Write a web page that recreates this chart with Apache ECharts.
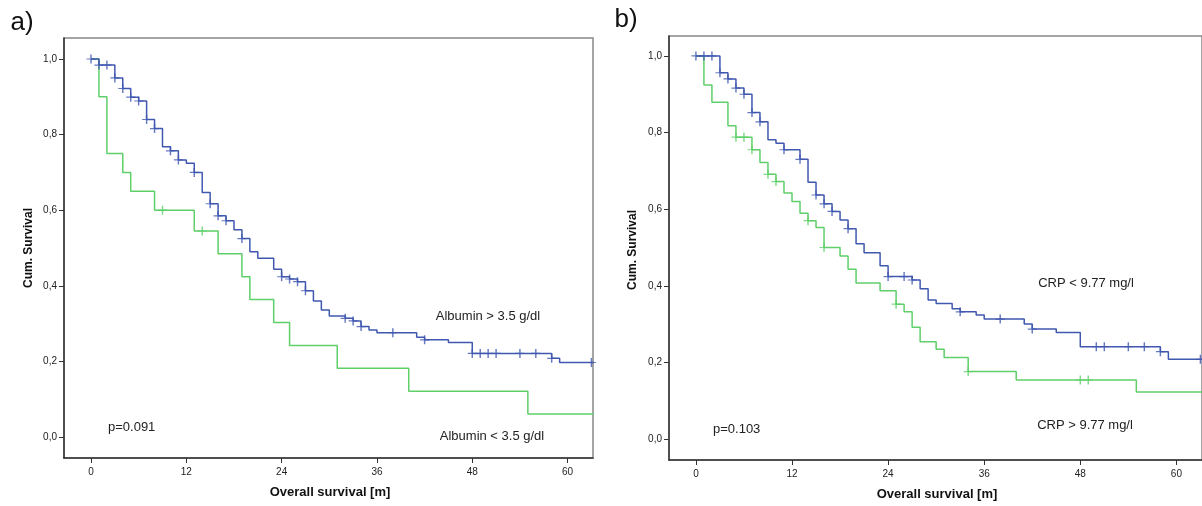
<!DOCTYPE html>
<html><head><meta charset="utf-8">
<script src="https://cdn.jsdelivr.net/npm/echarts@6/dist/echarts.min.js"></script>
<style>html,body{margin:0;padding:0;background:#fff}#c{width:1202px;height:506px}</style>
</head><body><div id="c"></div><script>
// ---- data ----
const xTicks = [0, 12, 24, 36, 48, 60];
const yTicks = [0, 0.2, 0.4, 0.6, 0.8, 1.0];
const endTime = 63.3;

// Panel a: Albumin > 3.5 g/dl
const albHighT = [0,1,3,4,5,6,7,8,9,10,11,12,13,14,15,16,17,18,19,20,21,23,24,25,26,27,28,29,30,32,33,34,35,36,41,42,45,48,58,59];
const albHighS = [1,0.984,0.950,0.922,0.899,0.889,0.840,0.816,0.768,0.757,0.733,0.724,0.700,0.647,0.617,0.585,0.572,0.548,0.525,0.490,0.473,0.444,0.424,0.418,0.411,0.387,0.360,0.336,0.320,0.314,0.307,0.292,0.283,0.276,0.264,0.257,0.250,0.221,0.208,0.197];
const albHighCens = [0,1,2,3,4,5,6,7,8,10,11,13,15,16,17,19,24,25,26,27,32,33,34,38,42,48,49,50,51,54,56,58,63];
// Panel a: Albumin < 3.5 g/dl
const albLowT = [0,1,2,4,5,8,13,16,19,20,23,25,31,40,55];
const albLowS = [1,0.90,0.75,0.70,0.65,0.60,0.545,0.485,0.424,0.364,0.303,0.242,0.182,0.121,0.061];
const albLowCens = [9,14];

// Panel b: CRP < 9.77 mg/l
const crpLowT = [0,3,4,5,6,7,8,9,10,11,13,14,15,16,17,18,19,20,21,23,24,27,28,29,30,32,33,35,36,41,42,45,48,58,59];
const crpLowS = [1,0.956,0.940,0.916,0.900,0.852,0.828,0.781,0.772,0.755,0.730,0.670,0.637,0.614,0.594,0.572,0.549,0.510,0.486,0.452,0.424,0.415,0.392,0.363,0.354,0.340,0.332,0.324,0.313,0.300,0.287,0.278,0.241,0.228,0.208];
const crpLowCens = [0,1,2,3,4,5,6,7,8,11,13,15,16,17,19,24,26,27,33,38,42,50,51,54,56,58,63];
// Panel b: CRP > 9.77 mg/l
const crpHighT = [0,1,2,4,5,7,8,9,10,11,12,13,14,15,16,18,19,20,23,25,26,27,28,30,31,34,40,55];
const crpHighS = [1,0.924,0.879,0.818,0.788,0.755,0.722,0.691,0.672,0.642,0.620,0.589,0.570,0.552,0.500,0.478,0.443,0.407,0.387,0.352,0.332,0.292,0.254,0.234,0.213,0.176,0.154,0.123];
const crpHighCens = [5,6,7,9,10,14,16,25,34,48,49];

// ---- helpers ----
function stepData(T, S) {
  return T.map((t, i) => [t, S[i]]).concat([[endTime, S[S.length - 1]]]);
}
function survAt(T, S, t) {
  let v = S[0];
  for (let i = 0; i < T.length; i++) { if (T[i] <= t) v = S[i]; }
  return v;
}
function censData(T, S, C) { return C.map(t => [t, survAt(T, S, t)]); }

const BLUE = '#4058b0';
const GREEN = '#5fcf69';
const FONT = "'Liberation Sans', Arial, sans-serif";
const PLUS = 'path://M-0.16,-1H0.16V-0.13H1V0.13H0.16V1H-0.16V0.13H-1V-0.13H-0.16Z';

function xAxis(gi, min, max) {
  return {
    type: 'value', gridIndex: gi, min: min, max: max, position: 'bottom',
    axisLine: { show: true, onZero: false, lineStyle: { color: '#333', width: 1.5 } },
    axisTick: { show: true, length: 5, customValues: xTicks, lineStyle: { color: '#333' } },
    axisLabel: { customValues: xTicks, color: '#222', fontSize: 10, fontFamily: FONT, margin: 9 },
    splitLine: { show: false }
  };
}
function yAxis(gi, min, max) {
  return {
    type: 'value', gridIndex: gi, min: min, max: max, position: 'left',
    axisLine: { show: true, onZero: false, lineStyle: { color: '#333', width: 1.5 } },
    axisTick: { show: true, length: 5, customValues: yTicks, lineStyle: { color: '#333' } },
    axisLabel: { customValues: yTicks, color: '#222', fontSize: 10, fontFamily: FONT, margin: 7,
      formatter: v => v.toFixed(1).replace('.', ',') },
    splitLine: { show: false }
  };
}
function lineSeries(idx, data, color) {
  return { type: 'line', xAxisIndex: idx, yAxisIndex: idx, data: data, step: 'end',
    symbol: 'none', lineStyle: { color: color, width: 1.5 }, clip: true, animation: false, z: 3 };
}
function censSeries(idx, data, color) {
  return { type: 'scatter', xAxisIndex: idx, yAxisIndex: idx, data: data, symbol: PLUS,
    symbolSize: 9, itemStyle: { color: color }, clip: false, animation: false, z: 4 };
}
function txt(x, y, s, opt) {
  return Object.assign({ type: 'text', x: x, y: y, style: Object.assign({ text: s, fill: '#222',
    font: '13px ' + FONT, textAlign: 'center', textVerticalAlign: 'middle' }, opt || {}) });
}

const chart = echarts.init(document.getElementById('c'), null, { renderer: 'canvas' });
chart.setOption({
  backgroundColor: '#fff',
  animation: false,
  grid: [
    { left: 64, top: 38, width: 529, height: 420, show: true, borderColor: '#888', borderWidth: 1.5 },
    { left: 669, top: 36, width: 535, height: 424, show: true, borderColor: '#888', borderWidth: 1.5 }
  ],
  xAxis: [xAxis(0, -3.4, 63.2), xAxis(1, -3.36, 63.2)],
  yAxis: [yAxis(0, -0.0556, 1.0556), yAxis(1, -0.0548, 1.052)],
  series: [
    lineSeries(0, stepData(albLowT, albLowS), GREEN),
    lineSeries(0, stepData(albHighT, albHighS), BLUE),
    censSeries(0, censData(albLowT, albLowS, albLowCens), GREEN),
    censSeries(0, censData(albHighT, albHighS, albHighCens), BLUE),
    lineSeries(1, stepData(crpHighT, crpHighS), GREEN),
    lineSeries(1, stepData(crpLowT, crpLowS), BLUE),
    censSeries(1, censData(crpHighT, crpHighS, crpHighCens), GREEN),
    censSeries(1, censData(crpLowT, crpLowS, crpLowCens), BLUE)
  ],
  graphic: [
    txt(22, 23, 'a)', { font: '26px ' + FONT, fill: '#111' }),
    txt(626, 20, 'b)', { font: '26px ' + FONT, fill: '#111' }),
    Object.assign(txt(29, 248, 'Cum. Survival', { font: 'bold 12px ' + FONT, fill: '#111' }), { rotation: Math.PI / 2 }),
    Object.assign(txt(633, 250, 'Cum. Survival', { font: 'bold 12px ' + FONT, fill: '#111' }), { rotation: Math.PI / 2 }),
    txt(330, 492, 'Overall survival [m]', { font: 'bold 13px ' + FONT, fill: '#111' }),
    txt(937, 494, 'Overall survival [m]', { font: 'bold 13px ' + FONT, fill: '#111' }),
    txt(488, 316, 'Albumin > 3.5 g/dl'),
    txt(492, 436, 'Albumin < 3.5 g/dl'),
    txt(108, 427, 'p=0.091', { textAlign: 'left' }),
    txt(1086, 283, 'CRP < 9.77 mg/l'),
    txt(1085, 425, 'CRP > 9.77 mg/l'),
    txt(713, 429, 'p=0.103', { textAlign: 'left' })
  ]
});
</script></body></html>
